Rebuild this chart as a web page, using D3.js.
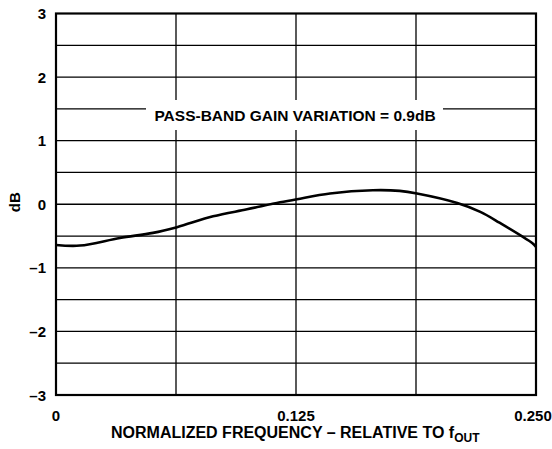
<!DOCTYPE html>
<html>
    <head>
        <meta charset="UTF-8">
        <script src="https://d3js.org/d3.v7.min.js"></script>
        <style>
            body { margin: 0; background: #fff; }
            text { font-family: "Liberation Sans", Arial, sans-serif; font-weight: bold; fill: #000; }
        </style>
    </head>

    <body>

        <svg id="canvas"></svg>

        <script>

            const freq = [0, 0.0125, 0.0333, 0.0505, 0.063, 0.0818, 0.0995, 0.1167, 0.1255, 0.1427, 0.165, 0.179, 0.188, 0.209, 0.221, 0.231, 0.248, 0.25];
            const gain = [-0.64, -0.65, -0.53, -0.45, -0.36, -0.19, -0.08, 0.03, 0.08, 0.17, 0.22, 0.21, 0.17, 0.02, -0.12, -0.29, -0.61, -0.67];

            const yTicks = [-3, -2, -1, 0, 1, 2, 3];
            const xTicks = [0, 0.125, 0.25];
            const xTickLabels = ["0", "0.125", "0.250"];
            const xGrid = [0.0625, 0.125, 0.1875];
            const yGrid = [-2.5, -2, -1.5, -1, -0.5, 0, 0.5, 1, 1.5, 2, 2.5];

            const note = "PASS-BAND GAIN VARIATION = 0.9dB";

            const width = 552;
            const height = 449;
            // plot box (window.top is taken, so m-prefixed)
            const mLeft = 56, mRight = 536, mTop = 13.5, mBottom = 395;

            const canvas = d3.select("#canvas")
                .attr("width", width)
                .attr("height", height);

            const x = d3.scaleLinear().domain([0, 0.25]).range([mLeft, mRight]);
            const y = d3.scaleLinear().domain([-3, 3]).range([mBottom, mTop]);

            // grid
            canvas.selectAll("line.vg")
                .data(xGrid)
                .enter()
                    .append("line")
                        .attr("x1", (d) => x(d)).attr("x2", (d) => x(d))
                        .attr("y1", mTop).attr("y2", mBottom)
                        .attr("style", "stroke:#000; stroke-width:1.3;");

            canvas.selectAll("line.hg")
                .data(yGrid)
                .enter()
                    .append("line")
                        .attr("x1", mLeft).attr("x2", mRight)
                        .attr("y1", (d) => y(d)).attr("y2", (d) => y(d))
                        .attr("style", "stroke:#000; stroke-width:1.3;");

            // white box behind the note
            canvas.append("rect")
                .attr("x", 146).attr("y", 100)
                .attr("width", 297).attr("height", 30)
                .attr("fill", "#fff");

            canvas.append("text")
                .attr("x", (mLeft + mRight) / 2 - 1)
                .attr("y", 120.5)
                .attr("text-anchor", "middle")
                .attr("font-size", 15.5)
                .text(note);

            // curve
            const line = d3.line()
                .x((d, i) => x(freq[i]))
                .y((d) => y(d))
                .curve(d3.curveCatmullRom.alpha(0.5));

            canvas.append("path")
                .attr("d", line(gain))
                .attr("style", "fill:none; stroke:#000; stroke-width:2.6; stroke-linejoin:round;");

            // frame
            canvas.append("rect")
                .attr("x", mLeft).attr("y", mTop)
                .attr("width", mRight - mLeft).attr("height", mBottom - mTop)
                .attr("style", "fill:none; stroke:#000; stroke-width:2.2;");

            // y tick labels
            canvas.selectAll("text.yt")
                .data(yTicks)
                .enter()
                    .append("text")
                        .attr("x", 46)
                        .attr("y", (d) => y(d) + 5.5)
                        .attr("text-anchor", "end")
                        .attr("font-size", 15)
                        .text((d) => d < 0 ? "\u2013" + Math.abs(d) : d);

            // x tick labels
            canvas.selectAll("text.xt")
                .data(xTicks)
                .enter()
                    .append("text")
                        .attr("x", (d) => d == 0.25 ? x(d) - 3 : x(d))
                        .attr("y", 421)
                        .attr("text-anchor", "middle")
                        .attr("font-size", 15)
                        .text((d, i) => xTickLabels[i]);

            // axis titles
            canvas.append("text")
                .attr("transform", "translate(20," + (y(0) - 2) + ") rotate(-90)")
                .attr("text-anchor", "middle")
                .attr("font-size", 15)
                .text("dB");

            const title = canvas.append("text")
                .attr("x", 111)
                .attr("y", 438)
                .attr("font-size", 16);
            title.append("tspan").text("NORMALIZED FREQUENCY \u2013 RELATIVE TO f");
            title.append("tspan")
                .attr("dy", 4)
                .attr("font-size", 12)
                .text("OUT");

        </script>

    </body>

</html>
